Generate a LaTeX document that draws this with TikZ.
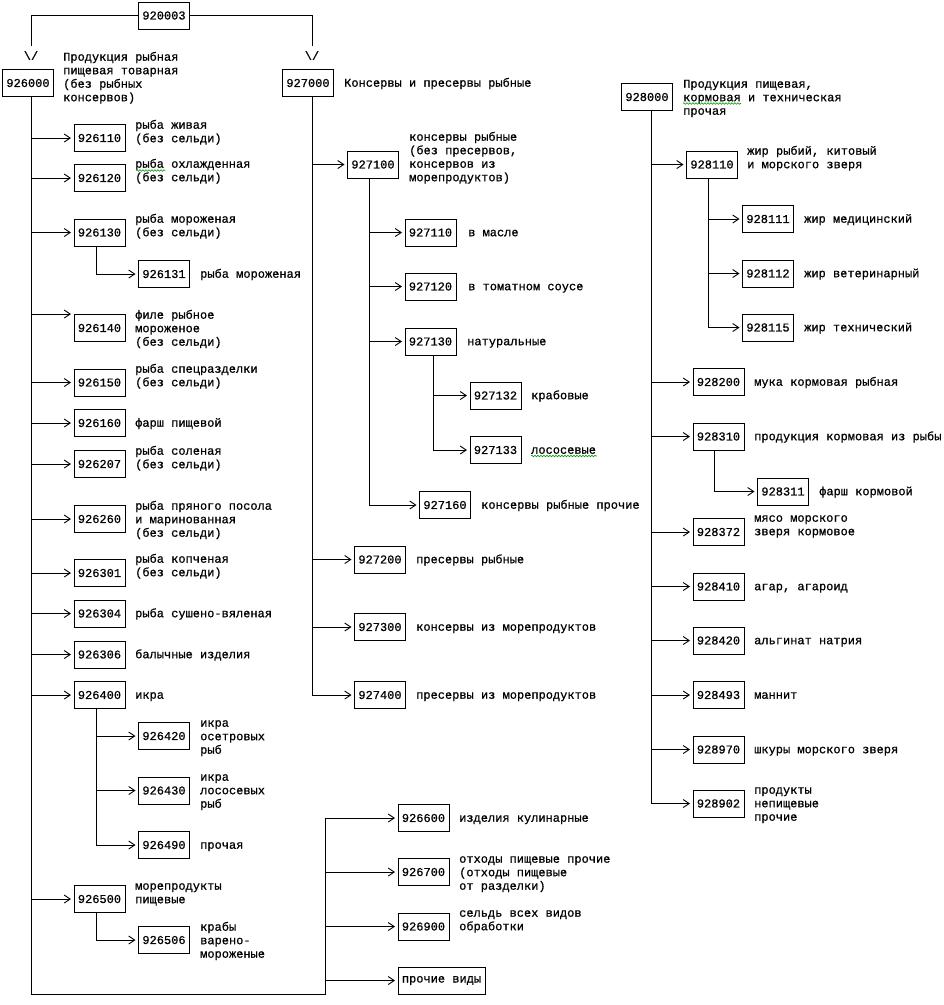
\documentclass[tikz,border=0pt]{standalone}
\usepackage{fontspec}
\setmonofont[FakeBold=0.8]{Liberation Mono}
\usetikzlibrary{arrows.meta,decorations.pathmorphing}
\begin{document}
\begin{tikzpicture}[x=1pt,y=-1pt,
  mono/.style={font=\ttfamily\fontsize{12}{13.5}\selectfont},
  box/.style={mono,draw,line width=1pt,minimum width=51pt,minimum height=27pt,inner sep=0pt},
  lbl/.style={mono,anchor=base west,align=left,inner sep=0pt,yshift={-3.7pt-(#1-1)*13.5pt}},
  lbl/.default=1,
  conn/.style={line width=0.9pt},
  arr/.style={conn,-{Straight Barb[length=6pt,width=8pt,line width=0.9pt]},shorten >=2.5pt},
  spell/.style={green!60!black,line width=0.6pt,decorate,decoration={snake,amplitude=0.8pt,segment length=3pt}}]
\useasboundingbox (0,0) rectangle (944,1005);
% trunk x coordinates
\coordinate (tA) at (31,0);
\coordinate (tB) at (96,0);
\coordinate (tR) at (325.5,0);
\coordinate (tC) at (312,0);
\coordinate (tD) at (369,0);
\coordinate (tE) at (433,0);
\coordinate (tF) at (651,0);
\coordinate (tG) at (708,0);
\coordinate (tH) at (714,0);
% boxes
\node[box] (b920003) at (164,15.5) {920003};
\node[box] (b926000) at (28,83) {926000};
\node[box] (b927000) at (308,83) {927000};
\node[box] (b928000) at (647,97) {928000};
\node[box] (b926110) at (99.5,138) {926110};
\node[box] (b926120) at (99.5,178) {926120};
\node[box] (b926130) at (99.5,232.5) {926130};
\node[box] (b926131) at (164,274) {926131};
\node[box] (b926140) at (99.5,328) {926140};
\node[box] (b926150) at (99.5,382.5) {926150};
\node[box] (b926160) at (99.5,423) {926160};
\node[box] (b926207) at (99.5,464) {926207};
\node[box] (b926260) at (99.5,519) {926260};
\node[box] (b926301) at (99.5,573) {926301};
\node[box] (b926304) at (99.5,613.5) {926304};
\node[box] (b926306) at (99.5,654.5) {926306};
\node[box] (b926400) at (99.5,695) {926400};
\node[box] (b926420) at (164,736) {926420};
\node[box] (b926430) at (164,790.5) {926430};
\node[box] (b926490) at (164,845) {926490};
\node[box] (b926500) at (99.5,899) {926500};
\node[box] (b926506) at (164,940) {926506};
\node[box] (b926600) at (423.5,818) {926600};
\node[box] (b926700) at (423.5,872) {926700};
\node[box] (b926900) at (423.5,926.5) {926900};
\node[box,minimum width=87pt] (bproch) at (441.5,980.5) {прочие виды};
\node[box] (b927100) at (373,164.5) {927100};
\node[box] (b927110) at (430.5,232.5) {927110};
\node[box] (b927120) at (430.5,286.5) {927120};
\node[box] (b927130) at (430.5,341.5) {927130};
\node[box] (b927132) at (495.5,395.5) {927132};
\node[box] (b927133) at (495.5,450) {927133};
\node[box] (b927160) at (445,505) {927160};
\node[box] (b927200) at (380,559.5) {927200};
\node[box] (b927300) at (380,627) {927300};
\node[box] (b927400) at (380,695) {927400};
\node[box] (b928110) at (712,164.5) {928110};
\node[box] (b928111) at (768,219) {928111};
\node[box] (b928112) at (768,273.5) {928112};
\node[box] (b928115) at (768,327.5) {928115};
\node[box] (b928200) at (718.5,382) {928200};
\node[box] (b928310) at (718.5,436.5) {928310};
\node[box] (b928311) at (783,491.5) {928311};
\node[box] (b928372) at (718.5,532) {928372};
\node[box] (b928410) at (718.5,586.5) {928410};
\node[box] (b928420) at (718.5,640.5) {928420};
\node[box] (b928493) at (718.5,695) {928493};
\node[box] (b928970) at (718.5,749.5) {928970};
\node[box] (b928902) at (718.5,803.5) {928902};
% labels (position = first line)
\node[lbl=4] (l926000) at (63,57) {Продукция рыбная\\пищевая товарная\\(без рыбных\\консервов)};
\node[lbl] (l927000) at (344,83) {Консервы и пресервы рыбные};
\node[lbl=3] (l928000) at (683,84) {Продукция пищевая,\\кормовая и техническая\\прочая};
\node[lbl=2] (l926110) at (135,125) {рыба живая\\(без сельди)};
\node[lbl=2] (l926120) at (135,164) {рыба охлажденная\\(без сельди)};
\node[lbl=2] (l926130) at (135,219) {рыба мороженая\\(без сельди)};
\node[lbl] (l926131) at (200,274) {рыба мороженая};
\node[lbl=3] (l926140) at (135,315) {филе рыбное\\мороженое\\(без сельди)};
\node[lbl=2] (l926150) at (135,369) {рыба спецразделки\\(без сельди)};
\node[lbl] (l926160) at (135,423) {фарш пищевой};
\node[lbl=2] (l926207) at (135,451) {рыба соленая\\(без сельди)};
\node[lbl=3] (l926260) at (135,506) {рыба пряного посола\\и маринованная\\(без сельди)};
\node[lbl=2] (l926301) at (135,559) {рыба копченая\\(без сельди)};
\node[lbl] (l926304) at (135,613.5) {рыба сушено-вяленая};
\node[lbl] (l926306) at (135,654.5) {балычные изделия};
\node[lbl] (l926400) at (135,695) {икра};
\node[lbl=3] (l926420) at (200,723) {икра\\осетровых\\рыб};
\node[lbl=3] (l926430) at (200,777) {икра\\лососевых\\рыб};
\node[lbl] (l926490) at (200,845) {прочая};
\node[lbl=2] (l926500) at (135,886) {морепродукты\\пищевые};
\node[lbl=3] (l926506) at (200,927) {крабы\\варено-\\мороженые};
\node[lbl] (l926600) at (459,818) {изделия кулинарные};
\node[lbl=3] (l926700) at (459,859) {отходы пищевые прочие\\(отходы пищевые\\от разделки)};
\node[lbl=2] (l926900) at (459,913) {сельдь всех видов\\обработки};
\node[lbl=4] (l927100) at (409,137) {консервы рыбные\\(без пресервов,\\консервов из\\морепродуктов)};
\node[lbl] (l927110) at (468,232.5) {в масле};
\node[lbl] (l927120) at (468,286.5) {в томатном соусе};
\node[lbl] (l927130) at (467,341.5) {натуральные};
\node[lbl] (l927132) at (531,395.5) {крабовые};
\node[lbl] (l927133) at (531,450) {лососевые};
\node[lbl] (l927160) at (481,505) {консервы рыбные прочие};
\node[lbl] (l927200) at (416,559.5) {пресервы рыбные};
\node[lbl] (l927300) at (416,627) {консервы из морепродуктов};
\node[lbl] (l927400) at (416,695) {пресервы из морепродуктов};
\node[lbl=2] (l928110) at (747,151) {жир рыбий, китовый\\и морского зверя};
\node[lbl] (l928111) at (804,219) {жир медицинский};
\node[lbl] (l928112) at (804,273.5) {жир ветеринарный};
\node[lbl] (l928115) at (804,327.5) {жир технический};
\node[lbl] (l928200) at (754,382) {мука кормовая рыбная};
\node[lbl] (l928310) at (754,436.5) {продукция кормовая из рыбы};
\node[lbl] (l928311) at (819,491.5) {фарш кормовой};
\node[lbl=2] (l928372) at (754,518) {мясо морского\\зверя кормовое};
\node[lbl] (l928410) at (754,586.5) {агар, агароид};
\node[lbl] (l928420) at (754,640.5) {альгинат натрия};
\node[lbl] (l928493) at (754,695) {маннит};
\node[lbl] (l928970) at (754,749.5) {шкуры морского зверя};
\node[lbl=3] (l928902) at (754,790) {продукты\\непищевые\\прочие};
% top split
\coordinate (v1) at (31,46);
\coordinate (v2) at (312,46);
\draw[conn] (b920003.west) -| (v1);
\draw[conn] (b920003.east) -| (v2);
\node[mono,inner sep=0pt] (a1) at (31,55.5) {\textbackslash/};
\node[mono,inner sep=0pt] (a2) at (312,55.5) {\textbackslash/};
% 926 trunk
\draw[conn] (tA |- b926000.south) |- (tR |- bproch.south) -- (tR |- b926600);
\foreach \n in {926110,926120,926130,926150,926160,926207,926260,926301,926304,926306,926400,926500}
  \draw[arr] (tA |- b\n) -- (b\n.west);
\draw[arr] (tA |- b926140.north) -- (b926140.north west);
\foreach \n in {926600,926700,926900}
  \draw[arr] (tR |- b\n) -- (b\n.west);
\draw[arr] (tR |- bproch) -- (bproch.west);
\draw[conn] (tB |- b926130.south) -- (tB |- b926131);
\draw[arr] (tB |- b926131) -- (b926131.west);
\draw[conn] (tB |- b926400.south) -- (tB |- b926490);
\foreach \n in {926420,926430,926490}
  \draw[arr] (tB |- b\n) -- (b\n.west);
\draw[conn] (tB |- b926500.south) -- (tB |- b926506);
\draw[arr] (tB |- b926506) -- (b926506.west);
% 927 trunk
\draw[conn] (tC |- b927000.south) -- (tC |- b927400);
\foreach \n in {927100,927200,927300,927400}
  \draw[arr] (tC |- b\n) -- (b\n.west);
\draw[conn] (tD |- b927100.south) -- (tD |- b927160);
\foreach \n in {927110,927120,927130,927160}
  \draw[arr] (tD |- b\n) -- (b\n.west);
\draw[conn] (tE |- b927130.south) -- (tE |- b927133);
\foreach \n in {927132,927133}
  \draw[arr] (tE |- b\n) -- (b\n.west);
% 928 trunk
\draw[conn] (tF |- b928000.south) -- (tF |- b928902);
\foreach \n in {928110,928200,928310,928372,928410,928420,928493,928970,928902}
  \draw[arr] (tF |- b\n) -- (b\n.west);
\draw[conn] (tG |- b928110.south) -- (tG |- b928115);
\foreach \n in {928111,928112,928115}
  \draw[arr] (tG |- b\n) -- (b\n.west);
\draw[conn] (tH |- b928310.south) -- (tH |- b928311);
\draw[arr] (tH |- b928311) -- (b928311.west);
% spell-check marks
\draw[spell] (136,170.5) -- (165,170.5);
\draw[spell] (683,103.5) -- (741,103.5);
\draw[spell] (531,456) -- (597,456);
\end{tikzpicture}
\end{document}
